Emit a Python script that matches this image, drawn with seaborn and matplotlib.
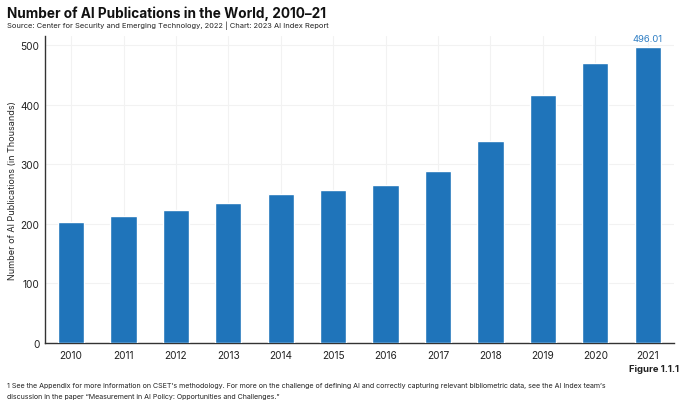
import matplotlib
matplotlib.use("Agg")
import matplotlib.pyplot as plt
import seaborn as sns
import pandas as pd

years = ["2010", "2011", "2012", "2013", "2014", "2015", "2016", "2017", "2018", "2019", "2020", "2021"]
publications = [203, 213, 223, 235, 250, 257, 265, 289, 339, 416, 470, 496.01]
yticks = [0, 100, 200, 300, 400, 500]

sns.set_theme(style="white")
plt.rcParams["font.family"] = ["Inter", "DejaVu Sans"]

df = pd.DataFrame({"year": years, "pubs": publications})

fig = plt.figure(figsize=(6.8, 4.02), dpi=100)
ax = fig.add_axes([0.066, 0.144, 0.925, 0.764])

sns.barplot(data=df, x="year", y="pubs", color="#1f74ba", width=0.5, saturation=1, ax=ax, zorder=3)

ax.set_ylim(0, 515)
ax.set_xlim(-0.5, 11.5)
ax.set_yticks(yticks)
ax.set_yticklabels([str(t) for t in yticks], fontsize=7.3, color="#222222")
ax.tick_params(axis="x", labelsize=7.3, colors="#222222", length=0, pad=5)
ax.tick_params(axis="y", length=0, pad=4)
ax.set_xlabel("")
ax.set_ylabel("Number of AI Publications (in Thousands)", fontsize=6.5, color="#222222", labelpad=2)

ax.grid(True, color="#f2f2f2", linewidth=0.8, zorder=0)
for s in ["top", "right"]:
    ax.spines[s].set_visible(False)
for s in ["left", "bottom"]:
    ax.spines[s].set_color("#333333")
    ax.spines[s].set_linewidth(1.0)

ax.annotate(f"{publications[-1]:.2f}", xy=(11, publications[-1]), xytext=(0, 3),
            textcoords="offset points", ha="center", va="bottom", fontsize=6.8, color="#2f7ec4")

fig.text(0.010, 0.965, "Number of AI Publications in the World, 2010\u201321",
         fontsize=9.8, fontweight="bold", color="#111111", va="center")
fig.text(0.010, 0.935, "Source: Center for Security and Emerging Technology, 2022 | Chart: 2023 AI Index Report",
         fontsize=5.4, color="#222222", va="center")
fig.text(0.998, 0.082, "Figure 1.1.1", fontsize=6.8, fontweight="bold", color="#222222", ha="right", va="center")
fig.text(0.010, 0.040,
         "1 See the Appendix for more information on CSET\u2019s methodology. For more on the challenge of defining AI and correctly capturing relevant bibliometric data, see the AI Index team\u2019s",
         fontsize=5.1, color="#222222", va="center")
fig.text(0.010, 0.013,
         "discussion in the paper \u201cMeasurement in AI Policy: Opportunities and Challenges.\u201d",
         fontsize=5.1, color="#222222", va="center")

fig.savefig("out.png", dpi=100)
